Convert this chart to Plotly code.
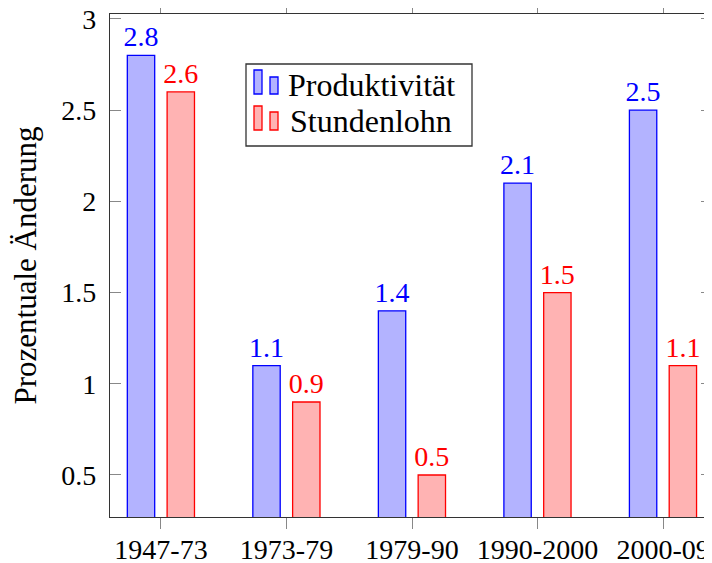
import plotly.graph_objects as go

categories = ["1947-73", "1973-79", "1979-90", "1990-2000", "2000-09"]
produktivitaet = [2.8, 1.1, 1.4, 2.1, 2.5]
stundenlohn = [2.6, 0.9, 0.5, 1.5, 1.1]
y_tickvals = [0.5, 1, 1.5, 2, 2.5, 3]
y_ticktext = ["0.5", "1", "1.5", "2", "2.5", "3"]
series_names = ["Produktivität", "Stundenlohn"]

FONT = "Liberation Serif"
FS = 28
BLUE_FILL = "rgb(179,179,255)"
RED_FILL = "rgb(255,179,179)"

fig = go.Figure()
fig.add_trace(go.Bar(
    x=categories, y=produktivitaet, name=series_names[0],
    width=0.218, offset=-0.268,
    marker=dict(color=BLUE_FILL, line=dict(color="blue", width=1.3)),
    text=[str(v) for v in produktivitaet], textposition="outside",
    constraintext="none",
    textfont=dict(color="blue", size=FS, family=FONT), cliponaxis=False,
))
fig.add_trace(go.Bar(
    x=categories, y=stundenlohn, name=series_names[1],
    width=0.218, offset=0.049,
    marker=dict(color=RED_FILL, line=dict(color="red", width=1.3)),
    text=[str(v) for v in stundenlohn], textposition="outside",
    constraintext="none",
    textfont=dict(color="red", size=FS, family=FONT), cliponaxis=False,
))

# page has an 8px body margin; figure fills the rest of the 712x563 window
OFF = 8
W, H = 712 - OFF, 563 - OFF
L, R, T, B = 110 - OFF, 0, 14 - OFF, 46
pw, ph = W - L - R, H - T - B

def px(x):
    return (x - OFF - L) / pw

def py(y):
    return 1 - (y - OFF - T) / ph

shapes = []
# legend box
shapes.append(dict(type="rect", xref="paper", yref="paper",
                   x0=px(246), x1=px(472), y0=py(146), y1=py(64),
                   line=dict(color="#333333", width=1.3), fillcolor="white", layer="above"))
# legend icons (two small bars each)
for (top1, top2, bot, fill, edge) in [(70, 77, 94, BLUE_FILL, "blue"), (106, 112, 130, RED_FILL, "red")]:
    shapes.append(dict(type="rect", xref="paper", yref="paper",
                       x0=px(254), x1=px(262), y0=py(bot), y1=py(top1),
                       line=dict(color=edge, width=1.3), fillcolor=fill, layer="above"))
    shapes.append(dict(type="rect", xref="paper", yref="paper",
                       x0=px(270), x1=px(278), y0=py(bot), y1=py(top2),
                       line=dict(color=edge, width=1.3), fillcolor=fill, layer="above"))

annotations = []
for name, yc in zip(series_names, [85, 121]):
    annotations.append(dict(xref="paper", yref="paper", x=px(371), y=py(yc),
                            text=name, showarrow=False, xanchor="center", yanchor="middle",
                            font=dict(family=FONT, size=32, color="black")))

fig.update_layout(
    width=W, height=H,
    margin=dict(l=L, r=R, t=T, b=B, autoexpand=False),
    plot_bgcolor="white", paper_bgcolor="white",
    showlegend=False,
    font=dict(family=FONT, size=FS, color="black"),
    shapes=shapes, annotations=annotations,
    xaxis=dict(type="category", range=[-0.406, 4.39], automargin=False,
               showline=True, linecolor="#333333", linewidth=1.3, mirror="ticks",
               ticks="outside", ticklen=11, tickcolor="#888888", tickwidth=1.3,
               ticklabelstandoff=-4, ticklabeloverflow="allow",
               showgrid=False, tickfont=dict(size=FS, family=FONT, color="black")),
    yaxis=dict(range=[0.2697, 3.027], tickvals=y_tickvals, ticktext=y_ticktext,
               automargin=False,
               showline=True, linecolor="#333333", linewidth=1.3, mirror="ticks",
               ticks="inside", ticklen=11, tickcolor="#888888", tickwidth=1.3,
               ticklabelstandoff=7, ticklabeloverflow="allow",
               showgrid=False, zeroline=False,
               tickfont=dict(size=FS, family=FONT, color="black"),
               title=dict(text="Prozentuale Änderung", font=dict(size=31, family=FONT, color="black"), standoff=17)),
)

fig.write_html("out.html")
